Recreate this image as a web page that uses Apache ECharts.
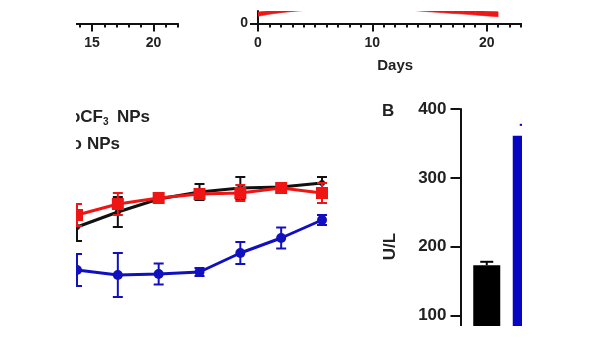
<!DOCTYPE html>
<html><head><meta charset="utf-8">
<script src="https://cdn.jsdelivr.net/npm/echarts@6/dist/echarts.min.js"></script>
<style>html,body{margin:0;padding:0;background:#fff}#c{width:600px;height:338px}</style>
</head><body><div id="c"></div>
<script>
// ---- upper-left panel (axis fragment) ----
const ulMajorTicks = [15, 20];
const ulMinorTicks = [10, 11, 12, 13, 14, 15, 16, 17, 18, 19, 20, 21, 22];
// ---- upper-middle panel (Days) ----
const bandDays  = [0, 1, 2, 3, 4, 5, 6, 7, 8, 9, 10, 11, 12, 13, 14, 15, 16, 17, 18, 19, 20, 21];
const bandLower = [7.2, 9.3, 10.8, 12.0, 13.0, 14.0, 14.8, 15.5, 16.0, 16.3, 16.4, 16.2, 15.5, 14.2, 12.6, 11.7, 10.9, 10.1, 9.4, 8.5, 7.6, 6.8];
const bandUpper = [11.5, 12.8, 14.3, 15.5, 16.5, 17.5, 18.3, 19.0, 19.5, 19.8, 19.9, 19.7, 19.0, 17.8, 16.3, 15.6, 14.9, 14.2, 13.6, 12.9, 12.3, 11.8];
const daysMajorTicks = [0, 10, 20];
const daysMinorTicks = [0, 1, 2, 3, 4, 5, 6, 7, 8, 9, 10, 11, 12, 13, 14, 15, 16, 17, 18, 19, 20, 21, 22, 23, 24];
const daysYTicks = [0];
// ---- lower-left panel (lines with error bars) ----
const timePoints = ['1', '2', '3', '4', '5', '6', '7'];
const blackMean = [8.3, 9.8, 11.1, 11.8, 12.2, 12.3, 12.7];
const blackErr  = [1.4, 1.5, 0.3, 0.8, 1.1, 0.3, 0.6];
const redMean   = [9.5, 10.6, 11.2, 11.6, 11.7, 12.2, 11.7];
const redErr    = [1.1, 1.1, 0.2, 0.5, 0.8, 0.2, 1.0];
const blueMean  = [4.0, 3.5, 3.6, 3.8, 5.7, 7.2, 9.0];
const blueErr   = [1.6, 2.2, 1.05, 0.4, 1.1, 1.05, 0.5];
// ---- panel B (bars) ----
const barCategories = ['Control', 'NPs'];
const barValues = [173, 361];
const barErrors = [5, 16];

const FONT = 'Liberation Sans, Arial, sans-serif';
const BLACK = '#111111', RED = '#f01515', BLUE = '#1010c0', BARBLUE = '#0606c2';

function errRender(color, capW, upOnly) {
  return function (params, api) {
    const x = api.value(0), y = api.value(1), e = api.value(2);
    const hi = api.coord([x, y + e]);
    const lo = upOnly ? api.coord([x, y]) : api.coord([x, y - e]);
    const h = capW / 2;
    const st = { stroke: color, lineWidth: 2 };
    const ch = [
      { type: 'line', shape: { x1: hi[0], y1: hi[1], x2: lo[0], y2: lo[1] }, style: st },
      { type: 'line', shape: { x1: hi[0] - h, y1: hi[1], x2: hi[0] + h, y2: hi[1] }, style: st }
    ];
    if (!upOnly) ch.push({ type: 'line', shape: { x1: lo[0] - h, y1: lo[1], x2: lo[0] + h, y2: lo[1] }, style: st });
    return { type: 'group', children: ch };
  };
}

// band segment between day i and day i+1
function bandRender(params, api) {
  const i = params.dataIndex;
  if (i >= bandDays.length - 1) return null;
  const p1 = api.coord([bandDays[i], bandLower[i]]);
  const p2 = api.coord([bandDays[i + 1], bandLower[i + 1]]);
  const p3 = api.coord([bandDays[i + 1], bandUpper[i + 1]]);
  const p4 = api.coord([bandDays[i], bandUpper[i]]);
  return { type: 'polygon', shape: { points: [p1, p2, p3, p4] },
           style: { fill: RED, stroke: RED, lineWidth: 0.6 } };
}

const axisLabelStyle = { fontFamily: FONT, fontWeight: 'bold', fontSize: 14, color: '#222' };

const chart = echarts.init(document.getElementById('c'), null, { renderer: 'canvas' });
chart.setOption({
  animation: false,
  backgroundColor: '#fff',
  grid: [
    { left: 30.7, width: 147.3, top: 11, bottom: 314.5, outerBoundsMode: 'none', containLabel: false },
    { left: 258, width: 274.4, top: 11, bottom: 314.5, outerBoundsMode: 'none', containLabel: false },
    { left: 77, right: 278, top: 160, bottom: 28, outerBoundsMode: 'none', containLabel: false },
    { left: 467, width: 79, top: 109, height: 275.3, outerBoundsMode: 'none', containLabel: false }
  ],
  xAxis: [
    { gridIndex: 0, type: 'value', min: 10, max: 22, position: 'bottom',
      axisLine: { show: true, lineStyle: { color: BLACK, width: 2 } },
      axisTick: { show: true, length: 8, lineStyle: { color: BLACK, width: 2 }, customValues: ulMajorTicks },
      axisLabel: Object.assign({ margin: 13, customValues: ulMajorTicks }, axisLabelStyle),
      splitLine: { show: false } },
    { gridIndex: 0, type: 'value', min: 10, max: 22, position: 'bottom',
      axisLine: { show: false },
      axisTick: { show: true, length: 4, lineStyle: { color: BLACK, width: 2 }, customValues: ulMinorTicks },
      axisLabel: { show: false }, splitLine: { show: false } },
    { gridIndex: 1, type: 'value', min: 0, max: 24, position: 'bottom',
      name: 'Days', nameLocation: 'middle', nameGap: 35,
      nameTextStyle: { fontFamily: FONT, fontWeight: 'bold', fontSize: 15, color: '#222' },
      axisLine: { show: true, lineStyle: { color: BLACK, width: 2 } },
      axisTick: { show: true, length: 8, lineStyle: { color: BLACK, width: 2 }, customValues: daysMajorTicks },
      axisLabel: Object.assign({ margin: 13, customValues: daysMajorTicks }, axisLabelStyle),
      splitLine: { show: false } },
    { gridIndex: 1, type: 'value', min: 0, max: 24, position: 'bottom',
      axisLine: { show: false },
      axisTick: { show: true, length: 4, lineStyle: { color: BLACK, width: 2 }, customValues: daysMinorTicks },
      axisLabel: { show: false }, splitLine: { show: false } },
    { gridIndex: 2, type: 'category', data: timePoints, boundaryGap: false, show: false },
    { gridIndex: 3, type: 'category', data: barCategories, boundaryGap: true, show: false }
  ],
  yAxis: [
    { gridIndex: 0, type: 'value', min: 0, max: 12.5, show: false },
    { gridIndex: 1, type: 'value', min: 0, max: 12.5,
      axisLine: { show: true, lineStyle: { color: BLACK, width: 2 } },
      axisTick: { show: true, length: 8, lineStyle: { color: BLACK, width: 2 }, customValues: daysYTicks },
      axisLabel: Object.assign({ margin: 10, customValues: daysYTicks }, axisLabelStyle),
      splitLine: { show: false } },
    { gridIndex: 2, type: 'value', min: 0, max: 15, show: false },
    { gridIndex: 3, type: 'value', min: 0, max: 400, interval: 100, offset: 6.5,
      name: 'U/L', nameLocation: 'middle', nameGap: 62,
      nameTextStyle: { fontFamily: FONT, fontWeight: 'bold', fontSize: 17, color: '#222' },
      axisLine: { show: true, lineStyle: { color: BLACK, width: 2 } },
      axisTick: { show: true, length: 10, lineStyle: { color: BLACK, width: 2 } },
      axisLabel: { margin: 14, fontFamily: FONT, fontWeight: 'bold', fontSize: 17, color: '#222' },
      splitLine: { show: false } }
  ],
  series: [
    { type: 'custom', xAxisIndex: 2, yAxisIndex: 1, clip: true, renderItem: bandRender,
      data: bandDays.map((d, i) => [d, bandLower[i], bandUpper[i]]) },

    { type: 'custom', xAxisIndex: 4, yAxisIndex: 2, z: 1, renderItem: errRender(BLACK, 10, false),
      data: timePoints.map((t, i) => [i, blackMean[i], blackErr[i]]) },
    { type: 'line', xAxisIndex: 4, yAxisIndex: 2, z: 2, symbol: 'circle', symbolSize: 6,
      lineStyle: { color: BLACK, width: 3 }, itemStyle: { color: BLACK }, data: blackMean },
    { type: 'custom', xAxisIndex: 4, yAxisIndex: 2, z: 3, renderItem: errRender(RED, 10, false),
      data: timePoints.map((t, i) => [i, redMean[i], redErr[i]]) },
    { type: 'line', xAxisIndex: 4, yAxisIndex: 2, z: 4, symbol: 'rect', symbolSize: 12,
      lineStyle: { color: RED, width: 3 }, itemStyle: { color: RED }, data: redMean },
    { type: 'custom', xAxisIndex: 4, yAxisIndex: 2, z: 5, renderItem: errRender(BLUE, 10, false),
      data: timePoints.map((t, i) => [i, blueMean[i], blueErr[i]]) },
    { type: 'line', xAxisIndex: 4, yAxisIndex: 2, z: 6, symbol: 'circle', symbolSize: 10,
      lineStyle: { color: BLUE, width: 3 }, itemStyle: { color: BLUE }, data: blueMean },

    { type: 'bar', xAxisIndex: 5, yAxisIndex: 3, barWidth: 27,
      data: barValues.map((v, i) => ({ value: v, itemStyle: { color: i === 0 ? '#000' : BARBLUE } })) },
    { type: 'custom', xAxisIndex: 5, yAxisIndex: 3, z: 3,
      renderItem: function (params, api) {
        const c = params.dataIndex === 0 ? '#000' : BARBLUE;
        return errRender(c, 13, true)(params, api);
      },
      data: barCategories.map((c, i) => [i, barValues[i], barErrors[i]]) }
  ],
  graphic: [
    { type: 'text', z: 50, left: 382, top: 103, style: { text: 'B', font: 'bold 17px ' + FONT, fill: '#222' } },
    { type: 'text', z: 50, x: 103, y: 117.5, style: { text: 'oCF', font: 'bold 17px ' + FONT, fill: '#222', align: 'right', verticalAlign: 'middle' } },
    { type: 'text', z: 50, x: 103, y: 122.5, style: { text: '3', font: 'bold 10px ' + FONT, fill: '#222', align: 'left', verticalAlign: 'middle' } },
    { type: 'text', z: 50, x: 117, y: 117.5, style: { text: 'NPs', font: 'bold 17px ' + FONT, fill: '#222', align: 'left', verticalAlign: 'middle' } },
    { type: 'text', z: 50, x: 82, y: 144, style: { text: 'o', font: 'bold 17px ' + FONT, fill: '#222', align: 'right', verticalAlign: 'middle' } },
    { type: 'text', z: 50, x: 87, y: 144, style: { text: 'NPs', font: 'bold 17px ' + FONT, fill: '#222', align: 'left', verticalAlign: 'middle' } },
    { type: 'rect', z: 100, shape: { x: 0, y: 0, width: 76, height: 338 }, style: { fill: '#fff' } },
    { type: 'rect', z: 100, shape: { x: 522, y: 0, width: 78, height: 338 }, style: { fill: '#fff' } },
    { type: 'rect', z: 100, shape: { x: 0, y: 326, width: 600, height: 12 }, style: { fill: '#fff' } }
  ]
});
</script></body></html>
